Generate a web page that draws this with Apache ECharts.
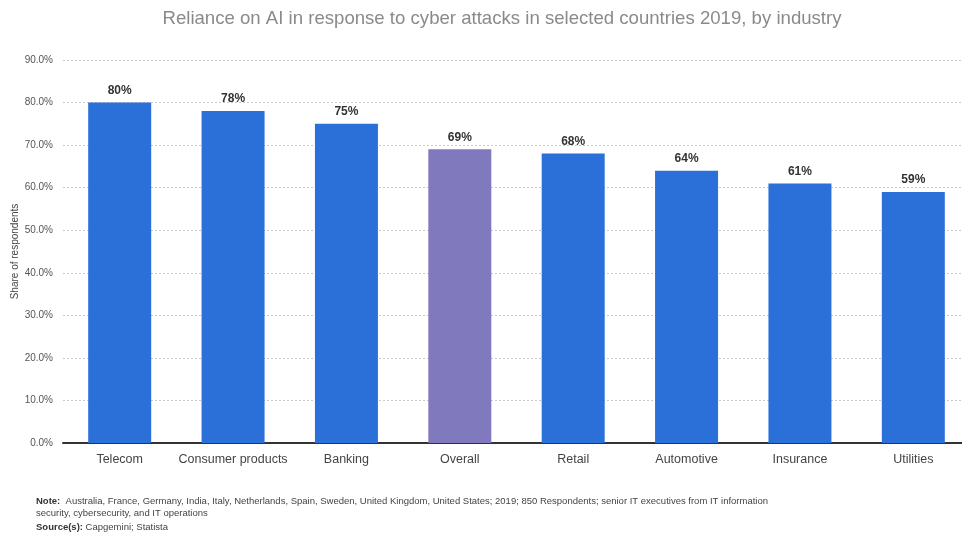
<!DOCTYPE html>
<html>
<head>
<meta charset="utf-8">
<script src="https://cdn.jsdelivr.net/npm/echarts@6/dist/echarts.min.js"></script>
<style>
  html, body { margin: 0; padding: 0; background: #fff; }
  #chart { width: 962px; height: 533px; }
</style>
</head>
<body>
<div id="chart"></div>
<script>
const categories = ['Telecom', 'Consumer products', 'Banking', 'Overall', 'Retail', 'Automotive', 'Insurance', 'Utilities']
const values = [80, 78, 75, 69, 68, 64, 61, 59]
const highlight = 'Overall'

const chart = echarts.init(document.getElementById('chart'))

const font = 'Liberation Sans, Arial, sans-serif'

chart.setOption({
  animation: false,
  backgroundColor: '#ffffff',
  title: {
    text: 'Reliance on AI in response to cyber attacks in selected countries 2019, by industry',
    left: 497,
    textAlign: 'center',
    top: 4,
    textStyle: { color: '#8a8a8a', fontSize: 18.6, fontWeight: 'normal', fontFamily: font }
  },
  grid: { left: 63, width: 907, top: 60, bottom: 90, containLabel: false, outerBoundsMode: 'none' },
  xAxis: {
    type: 'category',
    data: categories,
    axisLine: { lineStyle: { color: '#333', width: 2 } },
    axisTick: { show: false },
    axisLabel: { color: '#444', fontSize: 12.5, margin: 10, fontFamily: font, interval: 0 }
  },
  yAxis: {
    type: 'value',
    min: 0,
    max: 90,
    interval: 10,
    name: 'Share of respondents',
    nameLocation: 'middle',
    nameGap: 43,
    nameMoveOverlap: false,
    nameTextStyle: { color: '#444', fontSize: 10, fontFamily: font },
    axisLine: { show: false },
    axisTick: { show: false },
    axisLabel: { color: '#555', fontSize: 10, margin: 10, fontFamily: font, formatter: v => v.toFixed(1) + '%' },
    splitLine: { lineStyle: { color: '#c8c8c8', type: [2, 2], width: 1 } }
  },
  series: [{
    type: 'bar',
    barWidth: 63,
    data: values.map((v, i) => ({
      value: v,
      itemStyle: { color: categories[i] === highlight ? '#8079bd' : '#2a70d8' }
    })),
    label: {
      show: true,
      position: 'top',
      distance: 6,
      formatter: '{c}%',
      color: '#333',
      fontSize: 12,
      fontWeight: 'bold',
      fontFamily: font
    }
  }],
  graphic: [
    {
      type: 'text',
      left: 36,
      top: 495,
      style: {
        text: '{b|Note:}  Australia, France, Germany, India, Italy, Netherlands, Spain, Sweden, United Kingdom, United States; 2019; 850 Respondents; senior IT executives from IT information\nsecurity, cybersecurity, and IT operations',
        fill: '#444',
        fontSize: 9.5,
        lineHeight: 12,
        fontFamily: font,
        rich: { b: { fontWeight: 'bold', fontSize: 9.5, fill: '#333', fontFamily: font } }
      }
    },
    {
      type: 'text',
      left: 36,
      top: 522,
      style: {
        text: '{b|Source(s):} Capgemini; Statista',
        fill: '#444',
        fontSize: 9.5,
        fontFamily: font,
        rich: { b: { fontWeight: 'bold', fontSize: 9.5, fill: '#333', fontFamily: font } }
      }
    }
  ]
})
</script>
</body>
</html>
